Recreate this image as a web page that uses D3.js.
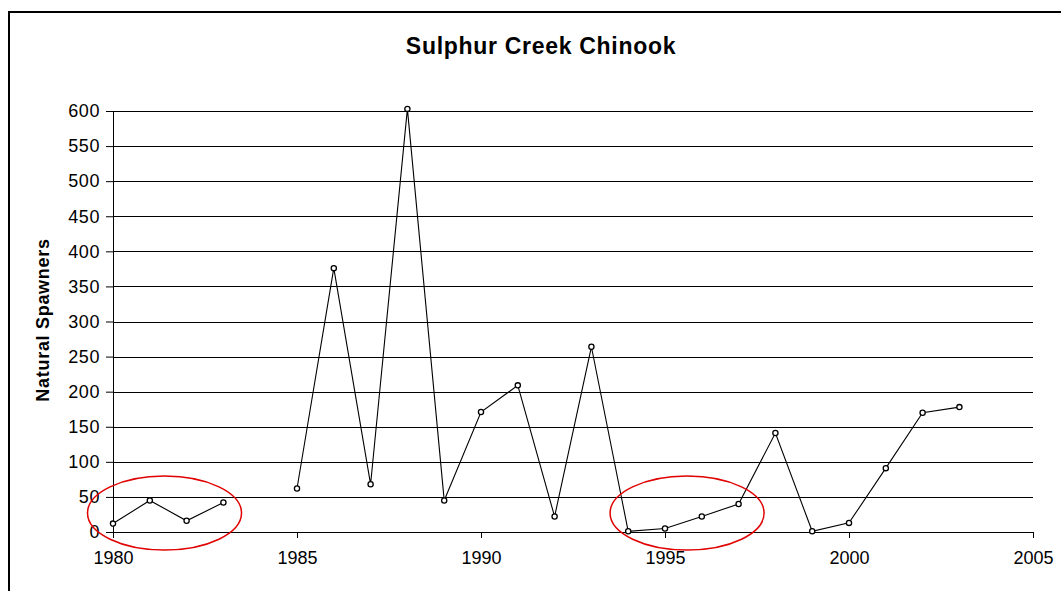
<!DOCTYPE html>
<html>
<head>
<meta charset="utf-8">
<script src="https://cdn.jsdelivr.net/npm/d3@7"></script>
<style>
  body { margin: 0; background: #fff; }
  text { font-family: "Liberation Sans", Arial, sans-serif; }
</style>
</head>
<body>
<div id="chart"></div>
<script>
const years = [1980, 1981, 1982, 1983, 1984, 1985, 1986, 1987, 1988, 1989, 1990, 1991,
               1992, 1993, 1994, 1995, 1996, 1997, 1998, 1999, 2000, 2001, 2002, 2003];
const spawners = [12, 45, 16, 42, null, 62, 376, 68, 603, 45, 171, 209,
                  22, 264, 1, 5, 22, 40, 141, 1, 13, 91, 170, 178];
const yTicks = [0, 50, 100, 150, 200, 250, 300, 350, 400, 450, 500, 550, 600];
const xTicks = [1980, 1985, 1990, 1995, 2000, 2005];
// red circled groups: centre year, centre value
const rings = [{ year: 1981.4, value: 27 }, { year: 1995.6, value: 27 }];

const W = 1061, H = 591;
const margin = { top: 111, right: 28, bottom: 59, left: 113 };
const width = W - margin.left - margin.right;
const height = H - margin.top - margin.bottom;

const root = d3.select("#chart").append("svg")
  .attr("width", W)
  .attr("height", H);

// outer chart border (open on right and bottom)
root.append("path")
  .attr("d", `M9,${H} L9,12 L${W},12`)
  .attr("fill", "none")
  .attr("stroke", "#000")
  .attr("stroke-width", 2);

root.append("text")
  .attr("x", 541)
  .attr("y", 54)
  .attr("text-anchor", "middle")
  .style("font-size", "23px")
  .style("letter-spacing", "0.7px")
  .style("font-weight", "bold")
  .text("Sulphur Creek Chinook");

const svg = root.append("g")
  .attr("transform", `translate(${margin.left},${margin.top})`);

const x = d3.scaleLinear().domain([1980, 2005]).range([0, width]);
const y = d3.scaleLinear().domain([0, 600]).range([height, 0]);

// gridlines
svg.append("g")
  .selectAll("line")
  .data(yTicks)
  .enter()
  .append("line")
  .attr("x1", 0)
  .attr("x2", width)
  .attr("y1", d => Math.round(y(d)) + 0.5)
  .attr("y2", d => Math.round(y(d)) + 0.5)
  .attr("stroke", "#000")
  .attr("stroke-width", 1);

// Y axis
const yAxis = svg.append("g")
  .call(d3.axisLeft(y).tickValues(yTicks).tickSize(7).tickPadding(6));
yAxis.selectAll("text").style("font-size", "18px").style("letter-spacing", "0.6px").attr("fill", "#000");
yAxis.select(".domain").attr("stroke", "#000");

// X axis
const xAxis = svg.append("g")
  .attr("transform", `translate(0,${height})`)
  .call(d3.axisBottom(x).tickValues(xTicks).tickFormat(d3.format("d")).tickSize(6).tickPadding(13));
xAxis.selectAll("text").style("font-size", "18px").attr("fill", "#000");
xAxis.select(".domain").attr("stroke", "#000");

const data = years.map((yr, i) => ({ year: yr, value: spawners[i] }));

svg.append("path")
  .datum(data)
  .attr("fill", "none")
  .attr("stroke", "#000")
  .attr("stroke-width", 1.1)
  .attr("d", d3.line()
    .defined(d => d.value !== null)
    .x(d => x(d.year))
    .y(d => y(d.value)));

svg.selectAll(".dot")
  .data(data.filter(d => d.value !== null))
  .enter()
  .append("circle")
  .attr("class", "dot")
  .attr("cx", d => x(d.year))
  .attr("cy", d => y(d.value))
  .attr("r", 2.6)
  .attr("fill", "#fff")
  .attr("stroke", "#000")
  .attr("stroke-width", 1.3);

// red annotation rings
svg.selectAll(".ring")
  .data(rings)
  .enter()
  .append("ellipse")
  .attr("class", "ring")
  .attr("cx", d => x(d.year))
  .attr("cy", d => y(d.value))
  .attr("rx", 77)
  .attr("ry", 37)
  .attr("fill", "none")
  .attr("stroke", "#e00000")
  .attr("stroke-width", 1.5);

// Y label
root.append("text")
  .attr("transform", "translate(49,320) rotate(-90)")
  .attr("text-anchor", "middle")
  .style("font-size", "18px")
  .style("letter-spacing", "0.7px")
  .style("font-weight", "bold")
  .text("Natural Spawners");
</script>
</body>
</html>
